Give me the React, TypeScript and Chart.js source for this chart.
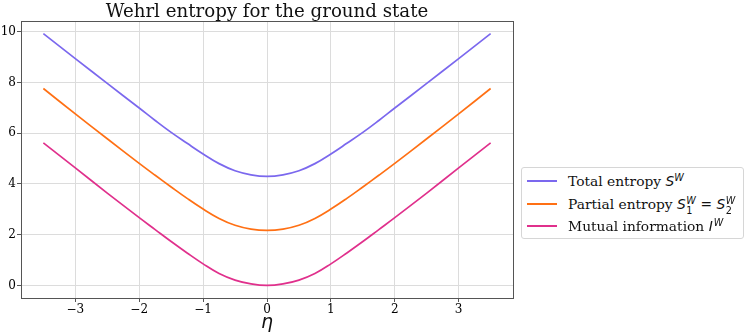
import React, { useEffect, useRef } from "react";
import { Chart, registerables } from "chart.js";

Chart.register(...registerables);

const etaValues = [-3.5, -3, -2.5, -2, -1.75, -1.5, -1.25, -1, -0.75, -0.5, -0.25, 0, 0.25, 0.5, 0.75, 1, 1.25, 1.5, 1.75, 2, 2.5, 3, 3.5];
const totalEntropy = [9.92, 8.94, 7.96, 6.99, 6.5, 6.03, 5.6, 5.18, 4.8, 4.52, 4.36, 4.3, 4.36, 4.52, 4.8, 5.18, 5.6, 6.03, 6.5, 6.99, 7.96, 8.94, 9.92];
const partialEntropy = [7.76, 6.76, 5.78, 4.81, 4.34, 3.88, 3.43, 3.01, 2.64, 2.37, 2.22, 2.17, 2.22, 2.37, 2.64, 3.01, 3.43, 3.88, 4.34, 4.81, 5.78, 6.76, 7.76];
const mutualInfo = [5.62, 4.63, 3.64, 2.67, 2.2, 1.73, 1.28, 0.85, 0.47, 0.21, 0.06, 0.0, 0.06, 0.21, 0.47, 0.85, 1.28, 1.73, 2.2, 2.67, 3.64, 4.63, 5.62];
const xTicks = [-3, -2, -1, 0, 1, 2, 3];
const yTicks = [0, 2, 4, 6, 8, 10];

const COLORS = ["#7b68ee", "#ff7014", "#e0308c"];
const SERIF = "'DejaVu Serif', serif";
const MATH = "'DejaVu Sans', sans-serif";

const toPts = (ys: number[]) => etaValues.map((x, i) => ({ x, y: ys[i] }));

const frame = {
  id: "frame",
  afterDatasetsDraw(chart: any) {
    const { ctx, chartArea: a } = chart;
    ctx.save();
    ctx.strokeStyle = "#555";
    ctx.lineWidth = 1;
    ctx.strokeRect(Math.round(a.left) + 0.5, Math.round(a.top) + 0.5, Math.round(a.right - a.left), Math.round(a.bottom - a.top));
    ctx.restore();
  },
};

const SupW = () => (
  <span style={{ fontFamily: MATH, fontStyle: "italic" }}>
    S<span style={{ fontSize: "0.7em", position: "relative", top: "-0.55em" }}>W</span>
  </span>
);

const SubSup = ({ sub }: { sub: string }) => (
  <span style={{ fontFamily: MATH, fontStyle: "italic" }}>
    S
    <span style={{ display: "inline-block", position: "relative", width: "0.75em", height: "1em" }}>
      <span style={{ position: "absolute", left: "0.05em", top: "-0.45em", fontSize: "0.7em" }}>W</span>
      <span style={{ position: "absolute", left: "0.05em", top: "0.55em", fontSize: "0.7em", fontStyle: "normal" }}>{sub}</span>
    </span>
  </span>
);

export default function App() {
  const ref = useRef<HTMLCanvasElement | null>(null);

  useEffect(() => {
    if (!ref.current) return;
    const mk = (label: string, data: number[], color: string) => ({
      label,
      data: toPts(data),
      borderColor: color,
      backgroundColor: color,
      borderWidth: 1.7,
      pointRadius: 0,
      tension: 0.4,
      fill: false,
    });
    const chart = new Chart(ref.current, {
      type: "line",
      data: {
        datasets: [
          mk("Total entropy S^W", totalEntropy, COLORS[0]),
          mk("Partial entropy S1^W = S2^W", partialEntropy, COLORS[1]),
          mk("Mutual information I^W", mutualInfo, COLORS[2]),
        ],
      },
      options: {
        animation: false,
        responsive: false,
        maintainAspectRatio: false,
        layout: { padding: { top: 21, right: 235, left: 0, bottom: 0 } },
        plugins: { legend: { display: false }, title: { display: false }, tooltip: { enabled: false } },
        scales: {
          x: {
            type: "linear",
            min: -3.85,
            max: 3.85,
            afterBuildTicks: (axis: any) => {
              axis.ticks = xTicks.map((v) => ({ value: v }));
            },
            afterFit: (scale: any) => {
              scale.height = 36;
            },
            ticks: {
              font: { family: SERIF, size: 12 },
              color: "#000",
              padding: 1,
              maxRotation: 0,
              callback: (v: any) => (Number(v) < 0 ? "\u2212" + Math.abs(Number(v)) : String(v)),
            },
            grid: { color: "#dcdcdc", tickColor: "#555", tickLength: 4, lineWidth: 1 },
            border: { color: "#555", width: 1 },
            title: {
              display: true,
              text: "\u03b7",
              font: { family: MATH, size: 19, style: "italic" },
              color: "#111",
              padding: { top: 0, bottom: 0 },
            },
          },
          y: {
            type: "linear",
            min: -0.495,
            max: 10.42,
            afterBuildTicks: (axis: any) => {
              axis.ticks = yTicks.map((v) => ({ value: v }));
            },
            afterFit: (scale: any) => {
              scale.width = 21;
            },
            ticks: { font: { family: SERIF, size: 12 }, color: "#000", padding: 1 },
            grid: { color: "#dcdcdc", tickColor: "#555", tickLength: 4, lineWidth: 1 },
            border: { color: "#555", width: 1 },
          },
        },
      },
      plugins: [frame],
    });
    return () => chart.destroy();
  }, []);

  const rowStyle: React.CSSProperties = {
    position: "absolute",
    left: 0,
    height: 22,
    whiteSpace: "nowrap",
  };
  const lineStyle = (c: string): React.CSSProperties => ({
    position: "absolute",
    left: 5,
    width: 30,
    height: 2,
    background: c,
    top: 10,
  });
  const textStyle: React.CSSProperties = { position: "absolute", left: 46, top: 0, lineHeight: "22px", fontFamily: SERIF, fontSize: 13.8, color: "#111" };

  return (
    <div style={{ position: "absolute", left: 0, top: 0, width: 748, height: 334, background: "#fff" }}>
      <canvas ref={ref} width={748} height={334} style={{ position: "absolute", left: 0, top: 0, width: 748, height: 334 }} />
      <div
        style={{
          position: "absolute",
          left: 21,
          width: 492,
          top: 0,
          textAlign: "center",
          fontFamily: SERIF,
          fontSize: 18.2,
          lineHeight: "22px",
          color: "#111",
          whiteSpace: "nowrap",
        }}
      >
        Wehrl entropy for the ground state
      </div>
      <div
        style={{
          position: "absolute",
          left: 521,
          top: 167,
          width: 223,
          height: 72,
          border: "1px solid #d6d6d6",
          borderRadius: 3,
          background: "#fff",
          boxSizing: "border-box",
        }}
      >
        <div style={{ ...rowStyle, top: 2 }}>
          <div style={lineStyle(COLORS[0])} />
          <div style={textStyle}>
            Total entropy <SupW />
          </div>
        </div>
        <div style={{ ...rowStyle, top: 24.5 }}>
          <div style={lineStyle(COLORS[1])} />
          <div style={textStyle}>
            Partial entropy <SubSup sub="1" />
            <span style={{ fontFamily: MATH }}> = </span>
            <SubSup sub="2" />
          </div>
        </div>
        <div style={{ ...rowStyle, top: 47 }}>
          <div style={lineStyle(COLORS[2])} />
          <div style={textStyle}>
            Mutual information{" "}
            <span style={{ fontFamily: MATH, fontStyle: "italic" }}>
              I<span style={{ fontSize: "0.7em", position: "relative", top: "-0.55em", marginLeft: "0.1em" }}>W</span>
            </span>
          </div>
        </div>
      </div>
    </div>
  );
}
